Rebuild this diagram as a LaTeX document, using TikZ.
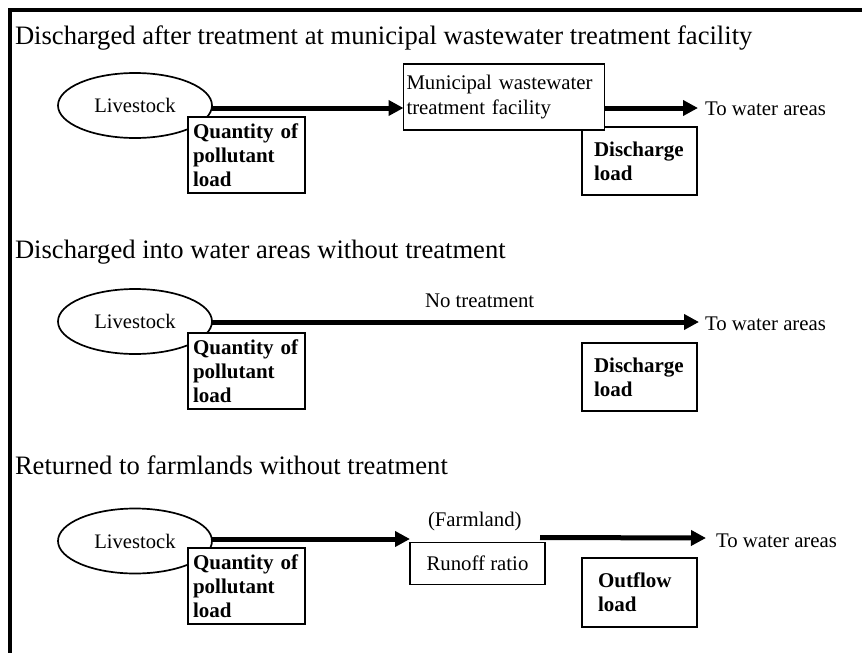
\documentclass[tikz,border=0pt]{standalone}
\usepackage{fontspec}
\setmainfont{Liberation Serif}
\usetikzlibrary{arrows.meta,shapes.geometric,calc}

\begin{document}
\begin{tikzpicture}[x=1pt,y=-1pt,
  every node/.style={inner sep=0pt, outer sep=0pt},
  heading/.style={anchor=base west, font=\fontsize{26.6}{30}\selectfont},
  caption/.style={anchor=base west, font=\fontsize{20.8}{23}\selectfont},
  source/.style={ellipse, draw, line width=1.7pt, minimum width=154pt,
    minimum height=65pt, font=\fontsize{20.6}{23}\selectfont},
  loadbox/.style={rectangle, draw, line width=2.3pt, fill=white, align=left,
    font=\bfseries\fontsize{21}{24.2}\selectfont},
  plantbox/.style={rectangle, draw, line width=1.7pt, fill=white, align=left,
    font=\fontsize{20.8}{24.5}\selectfont},
  flow/.style={line width=5pt, -{Triangle[length=15pt,width=15pt]}},
  frame/.style={line width=3.5pt}
]
\useasboundingbox (0,0) rectangle (862,653);

% outer frame (only top and left edges fall inside the page)
\coordinate (fbl) at (10,653);
\coordinate (ftl) at (10,10);
\coordinate (ftr) at (862,10);
\draw[frame] (fbl) -- (ftl) -- (ftr);

% ---- case 1: treated at municipal facility
\node[heading] (t1) at (15,44) {Discharged after treatment at municipal wastewater treatment facility};
\node[source] (ls1) at (135,105.5) {Livestock};
\node[loadbox, text width=91pt, inner xsep=12pt, minimum height=68pt] (d1) at (639.5,161)
  {Discharge\\load};
\node[plantbox, text width=195pt, inner xsep=3pt, minimum height=66pt] (mun1) at (504,97)
  {Municipal wastewater\\treatment facility};
\node[caption] (tw1) at (705,115) {To water areas};
\draw[flow] (ls1.east |- 0,108) -- (mun1.west |- 0,108);
\draw[flow] (mun1.east |- 0,108) -- ($(tw1.west |- 0,108)+(-7,0)$);
\node[loadbox, text width=107pt, inner xsep=5pt, minimum height=76pt] (q1) at (246.5,155)
  {Quantity of\\pollutant\\load};

% ---- case 2: discharged untreated
\node[heading] (t2) at (15,258) {Discharged into water areas without treatment};
\node[source] (ls2) at (135,321.5) {Livestock};
\node[caption] (nt2) at (425,307) {No treatment};
\node[caption] (tw2) at (705,330) {To water areas};
\draw[flow] (ls2.east |- 0,322) -- ($(tw2.west |- 0,322)+(-6,0)$);
\node[loadbox, text width=107pt, inner xsep=5pt, minimum height=76pt] (q2) at (246.5,371)
  {Quantity of\\pollutant\\load};
\node[loadbox, text width=91pt, inner xsep=12pt, minimum height=68pt] (d2) at (639.5,377)
  {Discharge\\load};

% ---- case 3: returned to farmland
\node[heading] (t3) at (15,474) {Returned to farmlands without treatment};
\node[source] (ls3) at (135,541) {Livestock};
\node[caption] (fl3) at (428,526) {(Farmland)};
\node[plantbox, align=center, minimum width=135pt, minimum height=42pt] (r3) at (477.5,563.5) {Runoff ratio};
\node[caption] (tw3) at (716,547) {To water areas};
\draw[flow] (ls3.east |- 0,539) -- (r3.west |- 0,539);
\draw[flow] ($(r3.north east)+(-5,-5)$) -- ($(tw3.west |- 0,538)+(-10,0)$);
\node[loadbox, text width=107pt, inner xsep=5pt, minimum height=76pt] (q3) at (246.5,586)
  {Quantity of\\pollutant\\load};
\node[loadbox, text width=83pt, inner xsep=16pt, minimum height=69pt] (o3) at (639.5,592.5)
  {Outflow\\load};
\end{tikzpicture}
\end{document}
